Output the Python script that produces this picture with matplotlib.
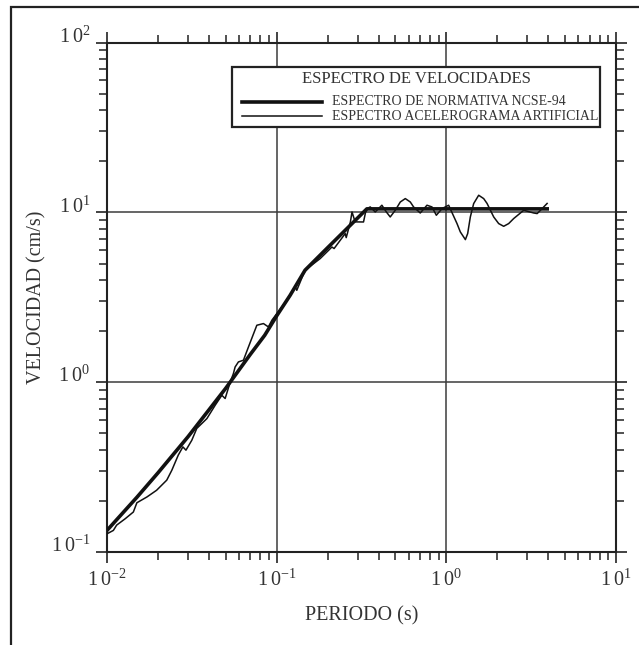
import matplotlib
matplotlib.use("Agg")
import matplotlib.pyplot as plt
from matplotlib.patches import Rectangle
from matplotlib.lines import Line2D
from matplotlib.ticker import LogLocator, FixedLocator

plt.rcParams['font.family'] = ['Liberation Serif', 'DejaVu Serif']
plt.rcParams['mathtext.fontset'] = 'custom'
plt.rcParams['mathtext.rm'] = 'Liberation Serif'

# Design velocity spectrum (NCSE-94), period in s, velocity in cm/s
code_T = [0.01, 0.015, 0.02, 0.03, 0.04, 0.05, 0.07, 0.085, 0.1, 0.12, 0.147, 0.2, 0.34, 3.93]
code_V = [0.134, 0.21, 0.293, 0.477, 0.69, 0.919, 1.461, 1.89, 2.46, 3.25, 4.57, 6.21, 10.5, 10.5]

# Response spectrum of the artificial accelerogram
art_T = [0.01, 0.0109, 0.0114, 0.0128, 0.0143, 0.0150, 0.0172, 0.0196, 0.0225, 0.0241,
         0.0263, 0.0280, 0.0292, 0.0316, 0.0338, 0.0388, 0.0434, 0.0475, 0.0497, 0.0532,
         0.0556, 0.0569, 0.0595, 0.0637, 0.0682, 0.0764, 0.0836, 0.0894, 0.0937, 0.1003,
         0.1149, 0.1285, 0.1314, 0.147, 0.1805, 0.2117, 0.218, 0.2535, 0.257, 0.272,
         0.278, 0.290, 0.325, 0.334, 0.345, 0.356, 0.381, 0.417, 0.443, 0.467,
         0.50, 0.5355, 0.573, 0.613, 0.641, 0.702, 0.769, 0.823, 0.873, 0.943,
         1.032, 1.156, 1.209, 1.295, 1.336, 1.385, 1.449, 1.551, 1.66, 1.738,
         1.902, 2.035, 2.178, 2.33, 2.495, 2.858, 3.274, 3.43, 3.669, 3.926]
art_V = [0.128, 0.134, 0.144, 0.157, 0.172, 0.195, 0.211, 0.231, 0.265, 0.303,
         0.372, 0.416, 0.398, 0.455, 0.534, 0.611, 0.732, 0.838, 0.802, 1.00,
         1.125, 1.23, 1.317, 1.348, 1.614, 2.166, 2.216, 2.117, 2.318, 2.54,
         3.04, 3.64, 3.48, 4.57, 5.35, 6.26, 6.13, 7.51, 7.11, 8.8,
         10.07, 8.8, 8.79, 10.0, 10.6, 10.78, 10.07, 11.03, 10.07, 9.41,
         10.3, 11.53, 12.07, 11.53, 10.78, 9.93, 11.03, 10.78, 9.63, 10.54,
         11.03, 8.6, 7.68, 6.92, 7.51, 9.41, 11.28, 12.63, 12.07, 11.3,
         9.41, 8.6, 8.29, 8.6, 9.21, 10.3, 9.93, 9.85, 10.54, 11.3]

legend_title = "ESPECTRO DE VELOCIDADES"
legend_labels = ["ESPECTRO DE NORMATIVA NCSE-94", "ESPECTRO ACELEROGRAMA ARTIFICIAL"]
x_ticks = [1e-2, 1e-1, 1e0, 1e1]
x_ticklabels = [r'$\mathrm{1\,0^{-2}}$', r'$\mathrm{1\,0^{-1}}$', r'$\mathrm{1\,0^{0}}$', r'$\mathrm{1\,0^{1}}$']
y_ticks = [1e-1, 1e0, 1e1, 1e2]
y_ticklabels = [r'$\mathrm{1\,0^{-1}}$', r'$\mathrm{1\,0^{0}}$', r'$\mathrm{1\,0^{1}}$', r'$\mathrm{1\,0^{2}}$']

W, H = 639, 645
fig = plt.figure(figsize=(W / 100, H / 100), dpi=100)
fig.patch.set_facecolor('white')

# outer frame (runs off the right and bottom edges)
fig.patches.append(Rectangle((11 / W, -0.2), 1.3, 1.2 - 7 / H, transform=fig.transFigure,
                             fill=False, lw=1.6, ec='#222222', zorder=0))

ax = fig.add_axes([107 / W, 1 - 552 / H, 509 / W, 509.3 / H])
ax.set_xscale('log')
ax.set_yscale('log')
ax.set_xlim(1e-2, 1e1)
ax.set_ylim(1e-1, 1e2)

ax.grid(which='major', color='#3c3c3c', lw=1.1)
ax.grid(which='minor', visible=False)

ax.plot(code_T, code_V, color='#111111', lw=2.6, solid_joinstyle='round', zorder=3)
ax.plot(art_T, art_V, color='#111111', lw=1.1, solid_joinstyle='round', zorder=4)

ax.xaxis.set_major_locator(FixedLocator(x_ticks))
ax.yaxis.set_major_locator(FixedLocator(y_ticks))
ax.xaxis.set_minor_locator(LogLocator(base=10, subs=range(2, 10)))
ax.yaxis.set_minor_locator(LogLocator(base=10, subs=range(2, 10)))
ax.set_xticklabels(x_ticklabels)
ax.set_yticklabels(y_ticklabels)
for lab in ax.get_yticklabels():
    lab.set_verticalalignment('baseline')

ax.tick_params(which='both', direction='out', top=True, right=True, color='#222222',
               labelsize=14.5, labelcolor='#333333')
ax.tick_params(which='major', length=8, width=1.2, pad=4)
ax.tick_params(which='minor', length=5.5, width=1.1)
ax.tick_params(axis='x', which='major', pad=5)

for sp in ax.spines.values():
    sp.set_linewidth(1.5)
    sp.set_color('#222222')

ax.set_xlabel("PERIODO (s)", fontsize=14.5, color='#333333', labelpad=11)
ax.set_ylabel("VELOCIDAD (cm/s)", fontsize=14.5, color='#333333', labelpad=3)

# legend box drawn in figure pixel positions
def fx(px):
    return px / W

def fy(py):
    return 1 - py / H

box = Rectangle((fx(232), fy(127)), fx(600) - fx(232), fy(67) - fy(127),
                transform=fig.transFigure, facecolor='white', edgecolor='#222222',
                lw=1.6, zorder=10)
fig.patches.append(box)
fig.text(fx(416), fy(79), legend_title, fontsize=12.0, color='#333333',
         ha='center', va='center', zorder=11)
fig.lines.append(Line2D([fx(242), fx(322)], [fy(101.7), fy(101.7)], transform=fig.transFigure,
                        color='#111111', lw=2.6, zorder=11))
fig.lines.append(Line2D([fx(242), fx(322)], [fy(116), fy(116)], transform=fig.transFigure,
                        color='#111111', lw=1.1, zorder=11))
fig.text(fx(332), fy(101.5), legend_labels[0], fontsize=10.0, color='#333333',
         ha='left', va='center', zorder=11)
fig.text(fx(332), fy(116.5), legend_labels[1], fontsize=10.0, color='#333333',
         ha='left', va='center', zorder=11)

fig.savefig("out.png", dpi=100, facecolor='white')
